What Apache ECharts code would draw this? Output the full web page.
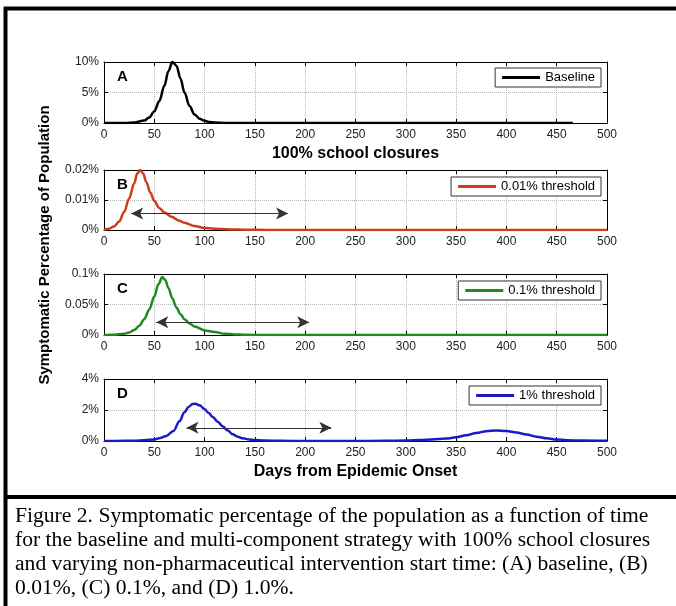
<!DOCTYPE html>
<html>
<head>
<meta charset="utf-8">
<title>Figure 2</title>
<script src="https://cdn.jsdelivr.net/npm/echarts@6/dist/echarts.min.js"></script>
<style>
  html, body { margin: 0; padding: 0; background: #fff; }
  #chart { width: 676px; height: 606px; }
</style>
</head>
<body>
<div id="chart"></div>
<script>
// days on the x axis / tick labels
var xTicks = [0, 50, 100, 150, 200, 250, 300, 350, 400, 450, 500];

// A: baseline (percent of population)
var daysA = [0, 20, 30, 40, 45, 50, 55, 60, 64, 68, 72, 76, 80, 85, 90, 95, 100, 105, 110, 120, 130, 200, 300, 400, 466];
var valsA = [0, 0.01, 0.08, 0.4, 0.9, 1.9, 3.6, 6.1, 8.5, 10, 9.4, 7.3, 5.0, 2.8, 1.4, 0.7, 0.35, 0.15, 0.07, 0.02, 0, 0, 0, 0, 0];

// B: 0.01% threshold
var daysB = [0, 5, 10, 15, 20, 25, 30, 33, 36, 39, 42, 46, 50, 55, 60, 67, 75, 80, 90, 100, 110, 125, 140, 160, 200, 300, 400, 500];
var valsB = [0, 0.0004, 0.0012, 0.0028, 0.006, 0.0105, 0.0155, 0.0188, 0.02, 0.0188, 0.016, 0.0125, 0.0097, 0.0073, 0.0058, 0.0044, 0.0031, 0.0024, 0.0013, 0.0007, 0.0004, 0.0002, 0.0001, 0.00003, 0, 0, 0, 0];

// C: 0.1% threshold
var daysC = [0, 10, 20, 25, 30, 35, 40, 45, 50, 54, 58, 61, 64, 68, 72, 76, 80, 85, 90, 100, 110, 120, 130, 140, 160, 250, 500];
var valsC = [0, 0.0004, 0.002, 0.004, 0.008, 0.015, 0.026, 0.042, 0.063, 0.083, 0.095, 0.09, 0.077, 0.06, 0.045, 0.034, 0.026, 0.019, 0.014, 0.0075, 0.005, 0.002, 0.001, 0.0004, 0, 0, 0];

// D: 1% threshold
var daysD = [0, 20, 30, 40, 50, 56, 62, 69, 75, 80, 84, 88, 91, 95, 100, 104, 108, 113, 118, 123, 128, 133, 138, 144, 150, 160, 175, 200, 250, 280, 300, 315, 326, 340, 350, 360, 370, 380, 390, 400, 410, 420, 430, 440, 450, 460, 475, 500];
var valsD = [0, 0.01, 0.02, 0.05, 0.1, 0.2, 0.33, 0.64, 1.28, 1.85, 2.2, 2.38, 2.4, 2.3, 2.05, 1.8, 1.55, 1.25, 0.95, 0.67, 0.43, 0.27, 0.17, 0.1, 0.06, 0.025, 0.01, 0, 0, 0.01, 0.03, 0.07, 0.1, 0.16, 0.24, 0.37, 0.52, 0.63, 0.68, 0.65, 0.55, 0.42, 0.28, 0.17, 0.1, 0.055, 0.025, 0.01];

// intervention window arrows [startDay, endDay, level]
var arrowB = [27, 183, 0.0055];
var arrowC = [52, 204, 0.021];
var arrowD = [82, 226, 0.85];

var names = ['Baseline', '0.01% threshold', '0.1% threshold', '1% threshold'];
var letters = ['A', 'B', 'C', 'D'];
var colors = ['#000000', '#cc3d1a', '#1f8a1f', '#1a1ac8'];
var yMax = [10, 0.02, 0.1, 4];
var yStep = [5, 0.01, 0.05, 2];

var days = [daysA, daysB, daysC, daysD];
var vals = [valsA, valsB, valsC, valsD];
var arrows = [null, arrowB, arrowC, arrowD];

var gridTops = [62, 170, 274, 379];
var gridHeights = [61, 60, 61, 62];
var legendTops = [68, 177, 281, 386];

var tickFont = "'Liberation Sans', Arial, sans-serif";

function zip(xs, ys) {
    var out = [];
    for (var i = 0; i < xs.length; i++) out.push([xs[i], ys[i]]);
    return out;
}

var grids = [], xAxes = [], yAxes = [], series = [], legends = [], graphics = [];

for (var i = 0; i < 4; i++) {
    grids.push({ left: 104, right: 69, top: gridTops[i], height: gridHeights[i] });

    // bottom x axis with labels
    xAxes.push({
        type: 'value', gridIndex: i, min: 0, max: 500, interval: 50,
        position: 'bottom',
        axisLine: { show: true, onZero: false, lineStyle: { color: '#000', width: 1 } },
        axisTick: { show: true, inside: true, length: 4, lineStyle: { color: '#000' } },
        axisLabel: { color: '#222', fontSize: 12, fontFamily: tickFont, margin: 6 },
        splitLine: { show: true, lineStyle: { color: '#b8b8b8', type: 'dotted', width: 1 } }
    });
    // top mirror axis (ticks only)
    xAxes.push({
        type: 'value', gridIndex: i, min: 0, max: 500, interval: 50,
        position: 'top',
        axisLine: { show: true, onZero: false, lineStyle: { color: '#000', width: 1 } },
        axisTick: { show: true, inside: true, length: 4, lineStyle: { color: '#000' } },
        axisLabel: { show: false },
        splitLine: { show: false }
    });

    yAxes.push({
        type: 'value', gridIndex: i, min: 0, max: yMax[i], interval: yStep[i],
        position: 'left',
        axisLine: { show: true, onZero: false, lineStyle: { color: '#000', width: 1 } },
        axisTick: { show: true, inside: true, length: 4, lineStyle: { color: '#000' } },
        axisLabel: {
            color: '#222', fontSize: 12, fontFamily: tickFont, margin: 5,
            formatter: function (v) { return (+v.toFixed(4)) + '%'; }
        },
        splitLine: { show: true, lineStyle: { color: '#b8b8b8', type: 'dotted', width: 1 } }
    });
    yAxes.push({
        type: 'value', gridIndex: i, min: 0, max: yMax[i], interval: yStep[i],
        position: 'right',
        axisLine: { show: true, onZero: false, lineStyle: { color: '#000', width: 1 } },
        axisTick: { show: true, inside: true, length: 4, lineStyle: { color: '#000' } },
        axisLabel: { show: false },
        splitLine: { show: false }
    });

    var s = {
        name: names[i],
        type: 'line',
        xAxisIndex: i * 2,
        yAxisIndex: i * 2,
        data: zip(days[i], vals[i]),
        showSymbol: false,
        smooth: 0.35,
        smoothMonotone: 'x',
        lineStyle: { color: colors[i], width: 2.5 },
        itemStyle: { color: colors[i] },
        z: 3
    };
    if (arrows[i]) {
        var a = arrows[i];
        s.markLine = {
            silent: true,
            symbol: ['arrow', 'arrow'],
            symbolSize: [9, 12],
            label: { show: false },
            lineStyle: { color: '#333', type: 'solid', width: 1 },
            data: [[{ coord: [a[0], a[2]] }, { coord: [a[1], a[2]] }]]
        };
    }
    series.push(s);

    legends.push({
        data: [names[i]],
        right: 75, top: legendTops[i],
        orient: 'horizontal',
        backgroundColor: '#fff',
        borderColor: '#333', borderWidth: 1,
        padding: [3, 6, 3, 7],
        icon: 'rect',
        itemWidth: 38, itemHeight: 3, itemGap: 5,
        selectedMode: false,
        textStyle: { color: '#000', fontSize: 13, fontFamily: 'Liberation Sans, Arial, sans-serif' }
    });

    graphics.push({
        type: 'text', left: 117, top: gridTops[i] + 7,
        style: { text: letters[i], font: 'bold 15px Liberation Sans, Arial, sans-serif', fill: '#000' }
    });
}

// axis titles
xAxes[0].name = '100% school closures';
xAxes[6].name = 'Days from Epidemic Onset';
[0, 6].forEach(function (k) {
    xAxes[k].nameLocation = 'middle';
    xAxes[k].nameGap = 23;
    xAxes[k].nameTextStyle = { color: '#000', fontSize: 16, fontWeight: 'bold', fontFamily: 'Liberation Sans, Arial, sans-serif' };
});

// frame around the figure and the caption
graphics.push(
    { type: 'line', shape: { x1: 5.5, y1: 7, x2: 5.5, y2: 606 }, style: { stroke: '#000', lineWidth: 4 } },
    { type: 'line', shape: { x1: 4, y1: 8.5, x2: 676, y2: 8.5 }, style: { stroke: '#000', lineWidth: 4 } },
    { type: 'line', shape: { x1: 4, y1: 497, x2: 676, y2: 497 }, style: { stroke: '#000', lineWidth: 4 } },
    {
        type: 'text', x: 45, y: 245, rotation: Math.PI / 2,
        style: {
            text: 'Symptomatic Percentage of Population',
            font: 'bold 15px Liberation Sans, Arial, sans-serif',
            fill: '#000', align: 'center', verticalAlign: 'middle'
        }
    }
);

var captionLines = [
    'Figure 2. Symptomatic percentage of the population as a function of time',
    'for the baseline and multi-component strategy with 100% school closures',
    'and varying non-pharmaceutical intervention start time: (A) baseline, (B)',
    '0.01%, (C) 0.1%, and (D) 1.0%.'
];
captionLines.forEach(function (t, k) {
    graphics.push({
        type: 'text', x: 15, y: 517 + k * 24, scaleX: 1.08,
        style: { text: t, font: '20px Liberation Serif, Times New Roman, serif', fill: '#000', verticalAlign: 'middle' }
    });
});

var myChart = echarts.init(document.getElementById('chart'), null, { renderer: 'canvas' });
var option = {
    backgroundColor: '#fff',
    animation: false,
    grid: grids,
    xAxis: xAxes,
    yAxis: yAxes,
    legend: legends,
    series: series,
    graphic: graphics
};
myChart.setOption(option);
</script>
</body>
</html>
